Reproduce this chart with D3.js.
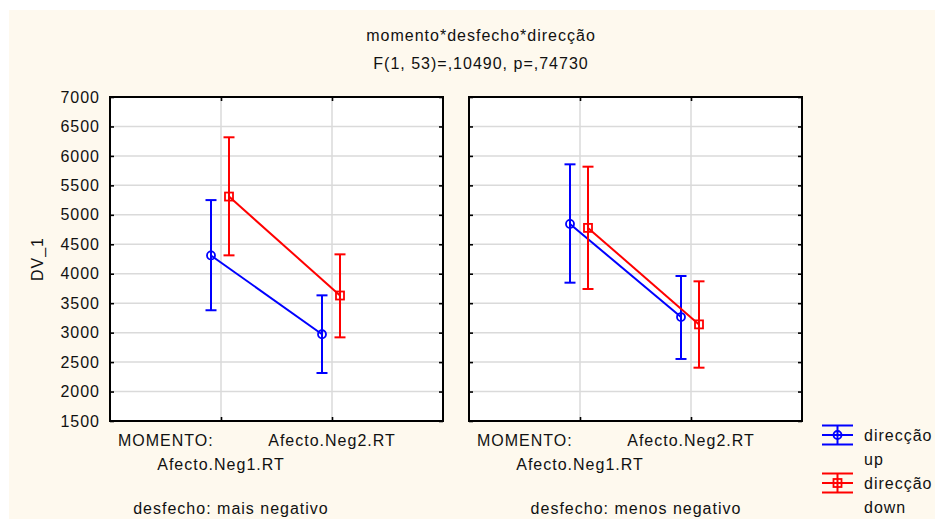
<!DOCTYPE html>
<html>
<head>
<meta charset="utf-8">
<script src="https://cdn.jsdelivr.net/npm/d3@7"></script>
<style>
  html, body { margin: 0; padding: 0; background: #ffffff; }
  svg { display: block; font-family: "Liberation Sans", Arial, sans-serif; }
</style>
</head>
<body>
<svg id="chart" width="935" height="519"></svg>
<script>
// ---- data ----
const titleLines = ["momento*desfecho*direcção", "F(1, 53)=,10490, p=,74730"];
const panelNames = ["desfecho: mais negativo", "desfecho: menos negativo"];
const momentoLevels = ["Afecto.Neg1.RT", "Afecto.Neg2.RT"];
const factorLabel = "MOMENTO:";
const yLabel = "DV_1";
const yTicks = [1500, 2000, 2500, 3000, 3500, 4000, 4500, 5000, 5500, 6000, 6500, 7000];
const seriesNames = ["direcção up", "direcção down"];

// per panel: [Afecto.Neg1.RT, Afecto.Neg2.RT]
const upMeans  = [[4310, 2973], [4845, 3264]];
const upLower  = [[3380, 2315], [3848, 2553]];
const upUpper  = [[5250, 3633], [5857, 3961]];
const downMeans = [[5310, 3630], [4778, 3140]];
const downLower = [[4312, 2920], [3741, 2405]];
const downUpper = [[6316, 4329], [5817, 3871]];

// ---- layout ----
const W = 935, H = 519;
const plotTop = 97, plotBottom = 421;
const panelX = [[110, 443], [469, 802]];
const captionX = [231, 636];
const ink = "#111111";
const fontSize = 16;
const spacing = "1px";

const series = [
  { name: seriesNames[0], means: upMeans, lower: upLower, upper: upUpper, color: "#0000ff", shape: "circle", dx: -10 },
  { name: seriesNames[1], means: downMeans, lower: downLower, upper: downUpper, color: "#ff0000", shape: "square", dx: 8 }
];

const svg = d3.select("#chart");

// cream page background
svg.append("rect").attr("x", 9).attr("y", 10).attr("width", W - 9).attr("height", H - 10)
  .attr("fill", "#fef9ee");

const y = d3.scaleLinear().domain([1500, 7000]).range([plotBottom, plotTop]);

function text(g, x, yy, str, anchor) {
  return g.append("text").attr("x", x).attr("y", yy).attr("text-anchor", anchor || "start")
    .attr("font-size", fontSize).attr("letter-spacing", spacing).attr("fill", ink).text(str);
}

// title
titleLines.forEach((t, i) => text(svg, 481, 41 + i * 28, t, "middle"));

// y axis title
svg.append("text").attr("transform", "translate(43,259) rotate(-90)")
  .attr("text-anchor", "middle").attr("font-size", fontSize).attr("letter-spacing", spacing)
  .attr("fill", ink).text(yLabel);

function drawMarker(g, shape, cx, cy, color) {
  if (shape === "circle") {
    g.append("circle").attr("cx", cx).attr("cy", cy).attr("r", 4)
      .attr("fill", "none").attr("stroke", color).attr("stroke-width", 1.8);
  } else {
    g.append("rect").attr("x", cx - 4).attr("y", cy - 4).attr("width", 8).attr("height", 8)
      .attr("fill", "none").attr("stroke", color).attr("stroke-width", 1.8);
  }
}

panelX.forEach(([x0, x1], p) => {
  const g = svg.append("g");
  const x = d3.scalePoint().domain(momentoLevels).range([x0, x1]).padding(1);

  // plot area
  g.append("rect").attr("x", x0).attr("y", plotTop).attr("width", x1 - x0).attr("height", plotBottom - plotTop)
    .attr("fill", "#ffffff");

  // grid
  g.append("g").selectAll("line").data(yTicks).join("line")
    .attr("x1", x0).attr("x2", x1).attr("y1", d => y(d)).attr("y2", d => y(d))
    .attr("stroke", "#dadada").attr("stroke-width", 1.5);
  g.append("g").selectAll("line").data(momentoLevels).join("line")
    .attr("x1", d => x(d)).attr("x2", d => x(d)).attr("y1", plotTop).attr("y2", plotBottom)
    .attr("stroke", "#dadada").attr("stroke-width", 1.5);

  // inward ticks on all four sides
  const tickAxes = [
    [d3.axisRight(y).tickValues(yTicks), `translate(${x0},0)`],
    [d3.axisLeft(y).tickValues(yTicks), `translate(${x1},0)`],
    [d3.axisBottom(x), `translate(0,${plotTop})`],
    [d3.axisTop(x), `translate(0,${plotBottom})`]
  ];
  tickAxes.forEach(([ax, tr]) => {
    const a = g.append("g").attr("transform", tr).call(ax.tickSize(4).tickFormat(""));
    a.select(".domain").remove();
    a.selectAll(".tick line").attr("stroke", "#000").attr("stroke-width", 1.6);
  });

  // y tick labels (left panel only)
  if (p === 0) {
    const a = g.append("g").attr("transform", `translate(${x0},0)`)
      .call(d3.axisLeft(y).tickValues(yTicks).tickSize(0).tickPadding(10).tickFormat(d3.format("d")));
    a.select(".domain").remove();
    a.selectAll("text").attr("font-size", fontSize).attr("letter-spacing", spacing)
      .attr("font-family", "Liberation Sans, Arial, sans-serif").attr("fill", ink);
  }

  // series
  series.forEach(s => {
    const pts = momentoLevels.map((m, i) => ({
      cx: x(m) + s.dx, mean: s.means[p][i], lo: s.lower[p][i], hi: s.upper[p][i]
    }));
    g.append("path").attr("d", d3.line().x(d => d.cx).y(d => y(d.mean))(pts))
      .attr("fill", "none").attr("stroke", s.color).attr("stroke-width", 2);
    pts.forEach(d => {
      g.append("line").attr("x1", d.cx).attr("x2", d.cx).attr("y1", y(d.lo)).attr("y2", y(d.hi))
        .attr("stroke", s.color).attr("stroke-width", 2);
      [d.lo, d.hi].forEach(v => g.append("line")
        .attr("x1", d.cx - 5.5).attr("x2", d.cx + 5.5).attr("y1", y(v)).attr("y2", y(v))
        .attr("stroke", s.color).attr("stroke-width", 2));
      drawMarker(g, s.shape, d.cx, y(d.mean), s.color);
    });
  });

  // frame
  g.append("rect").attr("x", x0).attr("y", plotTop).attr("width", x1 - x0).attr("height", plotBottom - plotTop)
    .attr("fill", "none").attr("stroke", "#000").attr("stroke-width", 2);

  // category labels
  text(g, x0 + 8, 446, factorLabel);
  momentoLevels.forEach((m, i) => text(g, x(m), i === 0 ? 470 : 446, m, "middle"));
  text(g, captionX[p], 514, panelNames[p], "middle");
});

// legend
const lg = svg.append("g");
series.forEach((s, i) => {
  const cy = 435 + i * 48, cx = 837.5, hw = 15.5;
  [cy - 9.5, cy, cy + 9.5].forEach(yy => lg.append("line")
    .attr("x1", cx - hw).attr("x2", cx + hw).attr("y1", yy).attr("y2", yy)
    .attr("stroke", s.color).attr("stroke-width", 2));
  lg.append("line").attr("x1", cx).attr("x2", cx).attr("y1", cy - 9.5).attr("y2", cy + 9.5)
    .attr("stroke", s.color).attr("stroke-width", 2);
  drawMarker(lg, s.shape, cx, cy, s.color);
  const words = s.name.split(" ");
  text(lg, 864, cy + 6, words[0]);
  text(lg, 864, cy + 30, words[1]);
});
</script>
</body>
</html>
